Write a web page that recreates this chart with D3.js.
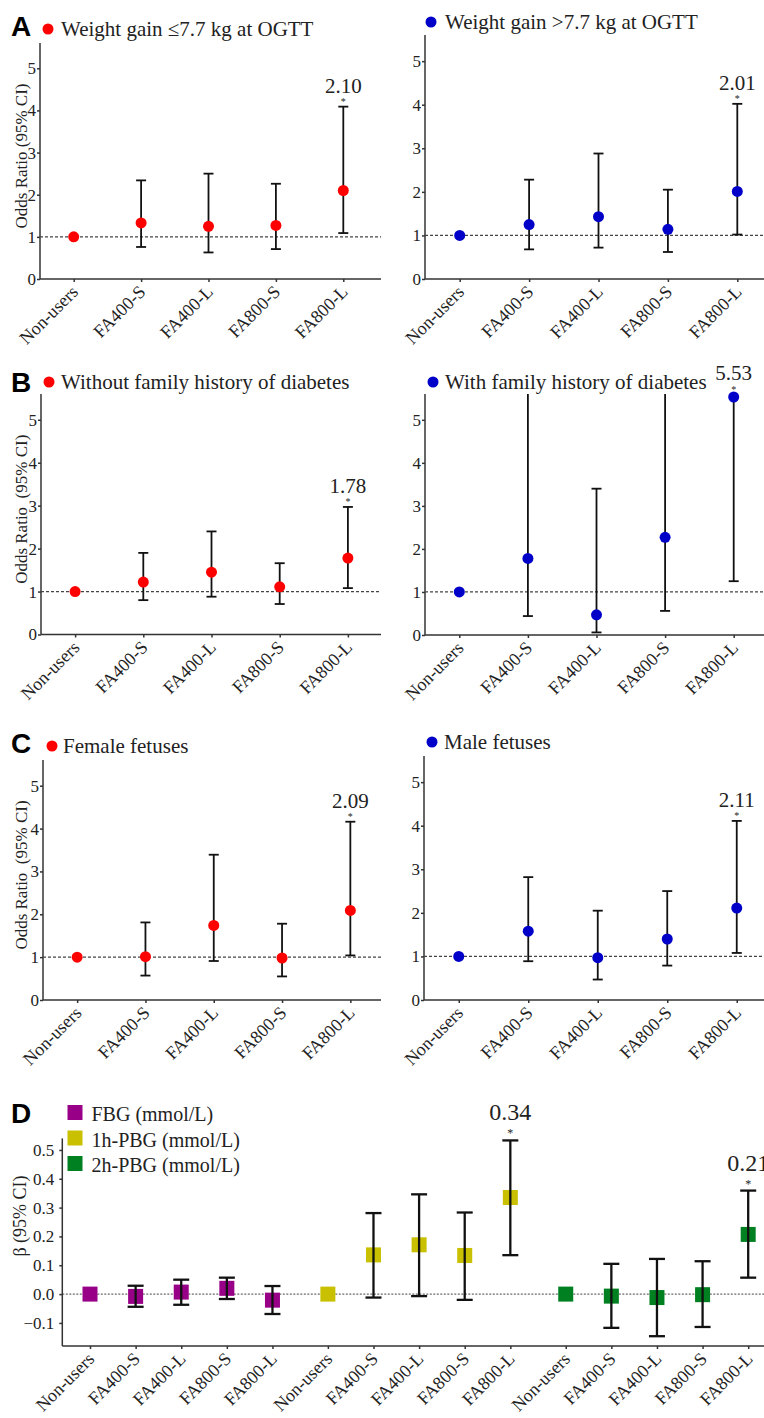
<!DOCTYPE html>
<html>
<head>
<meta charset="utf-8">
<script src="https://cdn.jsdelivr.net/npm/d3@7"></script>
<style>
  body { margin: 0; background: #fff; }
  svg text { font-family: "Liberation Serif", "DejaVu Serif", "Times New Roman", serif; }
  svg text.letter { font-family: "Liberation Sans", Arial, sans-serif; font-weight: bold; }
</style>
</head>
<body>
<div id="chart"></div>
<script>
// ---- data ----
const groups = ["Non-users", "FA400-S", "FA400-L", "FA800-S", "FA800-L"];
const orTicks = [0, 1, 2, 3, 4, 5];
const betaTicks = [-0.1, 0, 0.1, 0.2, 0.3, 0.4, 0.5];

// A: weight gain
const wgLowOR = [1, 1.33, 1.25, 1.27, 2.10];
const wgLowLo = [null, 0.76, 0.63, 0.71, 1.09];
const wgLowHi = [null, 2.34, 2.50, 2.26, 4.09];
const wgHighOR = [1, 1.25, 1.43, 1.14, 2.01];
const wgHighLo = [null, 0.68, 0.72, 0.62, 1.02];
const wgHighHi = [null, 2.28, 2.88, 2.05, 4.02];

// B: family history of diabetes
const noFamOR = [1, 1.22, 1.45, 1.11, 1.78];
const noFamLo = [null, 0.80, 0.88, 0.71, 1.08];
const noFamHi = [null, 1.90, 2.40, 1.66, 2.97];
const famOR = [1, 1.78, 0.47, 2.27, 5.53];
const famLo = [null, 0.44, 0.06, 0.56, 1.25];
const famHi = [null, 7.3, 3.40, 9.2, 24.5];   // tops beyond the axis are estimates

// C: fetal sex
const femaleOR = [1, 1.01, 1.74, 0.98, 2.09];
const femaleLo = [null, 0.57, 0.91, 0.55, 1.04];
const femaleHi = [null, 1.81, 3.39, 1.78, 4.16];
const maleOR = [1, 1.58, 0.97, 1.40, 2.11];
const maleLo = [null, 0.89, 0.47, 0.79, 1.08];
const maleHi = [null, 2.82, 2.05, 2.50, 4.11];

// D: glucose beta
const measures = ["FBG (mmol/L)", "1h-PBG (mmol/L)", "2h-PBG (mmol/L)"];
const measureColors = ["#990088", "#c8c000", "#008020"];
const fbgBeta = [0, -0.008, 0.007, 0.020, -0.021];
const fbgLo = [null, -0.044, -0.037, -0.017, -0.069];
const fbgHi = [null, 0.029, 0.050, 0.057, 0.028];
const pbg1Beta = [0, 0.136, 0.171, 0.134, 0.335];
const pbg1Lo = [null, -0.012, -0.007, -0.020, 0.135];
const pbg1Hi = [null, 0.281, 0.346, 0.283, 0.533];
const pbg2Beta = [0, -0.007, -0.012, -0.002, 0.207];
const pbg2Lo = [null, -0.117, -0.146, -0.114, 0.057];
const pbg2Hi = [null, 0.105, 0.122, 0.114, 0.359];
const betaSig = [null, 4, 4];   // index of the starred estimate per measure

// ---- setup ----
const width = 764;
const height = 1418;
const axisColor = "#333";

const svg = d3.select("#chart").append("svg")
  .attr("width", width)
  .attr("height", height);

const rows = [
  { letter: "A", letterY: 36, panels: [
    { title: "Weight gain \u22647.7 kg at OGTT", color: "red", or: wgLowOR, lo: wgLowLo, hi: wgLowHi,
      ax: 40, xEnd: 377, axEnd: 381, bottom: 279, top: 43, titleY: 36, dotX: 48, textX: 61, ylabel: "Odds Ratio (95% CI)" },
    { title: "Weight gain >7.7 kg at OGTT", color: "#0000c8", or: wgHighOR, lo: wgHighLo, hi: wgHighHi,
      ax: 425, xEnd: 772, axEnd: 764, bottom: 279, top: 35, titleY: 29, dotX: 431, textX: 445 }
  ]},
  { letter: "B", letterY: 392, panels: [
    { title: "Without family history of diabetes", color: "red", or: noFamOR, lo: noFamLo, hi: noFamHi,
      ax: 41, xEnd: 382, axEnd: 381, bottom: 634.5, top: 394, titleY: 389, dotX: 49, textX: 61, ylabel: "Odds Ratio\u00a0 (95% CI)" },
    { title: "With family history of diabetes", color: "#0000c8", or: famOR, lo: famLo, hi: famHi,
      ax: 425, xEnd: 768, axEnd: 764, bottom: 635, top: 394, titleY: 389, dotX: 433, textX: 445 }
  ]},
  { letter: "C", letterY: 753, panels: [
    { title: "Female fetuses", color: "red", or: femaleOR, lo: femaleLo, hi: femaleHi,
      ax: 43, xEnd: 384.5, axEnd: 381, bottom: 1000, top: 760, titleY: 753, dotX: 52, textX: 63, ylabel: "Odds Ratio\u00a0 (95% CI)" },
    { title: "Male fetuses", color: "#0000c8", or: maleOR, lo: maleLo, hi: maleHi,
      ax: 424, xEnd: 771.5, axEnd: 764, bottom: 1000, top: 756, titleY: 749, dotX: 432, textX: 444 }
  ]}
];

function styleAxis(g) {
  g.selectAll(".domain, .tick line").attr("stroke", axisColor).attr("stroke-width", 1.5);
  g.selectAll(".tick text").attr("fill", "#222");
}

function errorBars(g, xs, yFn, lo, hi, yMax, halfCap, strokeW) {
  groups.forEach((c, i) => {
    if (lo[i] === null) return;
    const top = Math.min(hi[i], yMax);
    const x = xs(c);
    g.append("line").attr("x1", x).attr("x2", x)
      .attr("y1", yFn(lo[i])).attr("y2", yFn(top))
      .attr("stroke", "#111").attr("stroke-width", strokeW);
    g.append("line").attr("x1", x - halfCap).attr("x2", x + halfCap)
      .attr("y1", yFn(lo[i])).attr("y2", yFn(lo[i]))
      .attr("stroke", "#111").attr("stroke-width", strokeW);
    if (hi[i] <= yMax) {
      g.append("line").attr("x1", x - halfCap).attr("x2", x + halfCap)
        .attr("y1", yFn(top)).attr("y2", yFn(top))
        .attr("stroke", "#111").attr("stroke-width", strokeW);
    }
  });
}

// ---- panels A-C ----
rows.forEach(row => {
  svg.append("text")
    .attr("class", "letter")
    .attr("x", 11).attr("y", row.letterY)
    .attr("font-size", 28).attr("fill", "#000")
    .text(row.letter);

  row.panels.forEach(p => {
    const x = d3.scalePoint().domain(groups).range([p.ax, p.xEnd]).padding(0.5);
    const y = d3.scaleLinear().domain([0, 5.6]).range([p.bottom, p.top]);
    const g = svg.append("g");

    // title with dot
    g.append("circle").attr("cx", p.dotX).attr("cy", p.titleY - 7).attr("r", 5.5).attr("fill", p.color);
    g.append("text").attr("x", p.textX).attr("y", p.titleY)
      .attr("font-size", 21).attr("fill", "#222").text(p.title);

    // y axis
    const yAxis = g.append("g")
      .attr("transform", `translate(${p.ax},0)`)
      .call(d3.axisLeft(y).tickValues(orTicks).tickFormat(d3.format("d")).tickSize(3).tickPadding(1).tickSizeOuter(0));
    yAxis.select(".domain").attr("d", `M0,${p.bottom}V${p.top}`);
    yAxis.selectAll(".tick text").attr("font-size", 17);
    styleAxis(yAxis);

    // x axis
    const xAxis = g.append("g")
      .attr("transform", `translate(0,${p.bottom})`)
      .call(d3.axisBottom(x).tickSize(3).tickSizeOuter(0));
    xAxis.select(".domain").attr("d", `M${p.ax},0H${p.axEnd}`);
    xAxis.selectAll(".tick text")
      .attr("x", 0).attr("y", 0).attr("dy", 0)
      .attr("transform", "translate(5,14) rotate(-45)")
      .attr("font-size", 18)
      .style("text-anchor", "end");
    styleAxis(xAxis);

    if (p.ylabel) {
      g.append("text")
        .attr("transform", `translate(27,${(p.top + p.bottom) / 2 - 5}) rotate(-90)`)
        .attr("text-anchor", "middle").attr("font-size", 17).attr("fill", "#222")
        .text(p.ylabel);
    }

    // reference line at OR = 1
    g.append("line")
      .attr("x1", p.ax).attr("x2", p.axEnd)
      .attr("y1", y(1)).attr("y2", y(1))
      .attr("stroke", "#444").attr("stroke-width", 1.3).attr("stroke-dasharray", "3,2");

    errorBars(g, x, y, p.lo, p.hi, 5.6, 5, 1.8);

    g.selectAll(".pt").data(groups).enter().append("circle")
      .attr("cx", d => x(d))
      .attr("cy", (d, i) => y(p.or[i]))
      .attr("r", 5.5)
      .attr("fill", p.color);

    // starred estimate (last category)
    const last = groups.length - 1;
    const topY = y(Math.min(p.hi[last], 5.6));
    g.append("text").attr("x", x(groups[last])).attr("y", topY - 14)
      .attr("text-anchor", "middle").attr("font-size", 21).attr("fill", "#222")
      .text(p.or[last].toFixed(2));
    g.append("text").attr("x", x(groups[last])).attr("y", topY - 1.5)
      .attr("text-anchor", "middle").attr("font-size", 10).attr("fill", "#222")
      .text("*");
  });
});

// ---- panel D ----
const dBottom = 1346, dTop = 1138.4, dAx = 62.3;
const betaSets = [
  { beta: fbgBeta, lo: fbgLo, hi: fbgHi },
  { beta: pbg1Beta, lo: pbg1Lo, hi: pbg1Hi },
  { beta: pbg2Beta, lo: pbg2Lo, hi: pbg2Hi }
];

const outer = d3.scaleBand().domain(measures).range([67.2, 771]).paddingInner(0.0412).paddingOuter(0);
const inner = d3.scalePoint().domain(groups).range([0, outer.bandwidth()]).padding(0.5);
const yD = d3.scaleLinear().domain([-0.18, 0.54]).range([dBottom, dTop]);

const gD = svg.append("g");

gD.append("text")
  .attr("class", "letter")
  .attr("x", 11).attr("y", 1123)
  .attr("font-size", 28).attr("fill", "#000")
  .text("D");

const yAxisD = gD.append("g")
  .attr("transform", `translate(${dAx},0)`)
  .call(d3.axisLeft(yD).tickValues(betaTicks).tickFormat(d3.format(".1f")).tickSize(3).tickPadding(5).tickSizeOuter(0));
yAxisD.select(".domain").attr("d", `M0,${dBottom}V${dTop}`);
yAxisD.selectAll(".tick text").attr("font-size", 17);
styleAxis(yAxisD);

gD.append("text")
  .attr("transform", `translate(26,1216) rotate(-90)`)
  .attr("text-anchor", "middle").attr("font-size", 18).attr("fill", "#222")
  .text("\u03b2 (95% CI)");

gD.append("line").attr("x1", dAx).attr("x2", width)
  .attr("y1", dBottom).attr("y2", dBottom)
  .attr("stroke", axisColor).attr("stroke-width", 1.5);

gD.append("line")
  .attr("x1", dAx).attr("x2", width)
  .attr("y1", yD(0)).attr("y2", yD(0))
  .attr("stroke", "#444").attr("stroke-width", 1).attr("stroke-dasharray", "2,1.5");

measures.forEach((m, k) => {
  const set = betaSets[k];
  const gx = gD.append("g").attr("transform", `translate(${outer(m)},0)`);

  const xa = gx.append("g")
    .attr("transform", `translate(0,${dBottom})`)
    .call(d3.axisBottom(inner).tickSize(3).tickSizeOuter(0));
  xa.select(".domain").remove();
  xa.selectAll(".tick text")
    .attr("x", 0).attr("y", 0).attr("dy", 0)
    .attr("transform", "translate(5,14) rotate(-45)")
    .attr("font-size", 18)
    .style("text-anchor", "end");
  styleAxis(xa);

  gx.selectAll(".sq").data(groups).enter().append("rect")
    .attr("x", d => inner(d) - 7.5)
    .attr("y", (d, i) => yD(set.beta[i]) - 7.5)
    .attr("width", 15).attr("height", 15)
    .attr("fill", measureColors[k]);

  errorBars(gx, inner, yD, set.lo, set.hi, 0.54, 8, 2.3);

  if (betaSig[k] !== null) {
    const c = groups[betaSig[k]];
    const topY = yD(set.hi[betaSig[k]]);
    gx.append("text").attr("x", inner(c)).attr("y", topY - 20)
      .attr("text-anchor", "middle").attr("font-size", 24).attr("fill", "#222")
      .text(set.beta[betaSig[k]].toFixed(2));
    gx.append("text").attr("x", inner(c)).attr("y", topY - 3)
      .attr("text-anchor", "middle").attr("font-size", 12).attr("fill", "#222")
      .text("*");
  }
});

// legend D
const legend = gD.append("g");
measures.forEach((m, k) => {
  const ly = 1105 + k * 25.5;
  legend.append("rect").attr("x", 67.5).attr("y", ly).attr("width", 15).attr("height", 15)
    .attr("fill", measureColors[k]);
  legend.append("text").attr("x", 91.5).attr("y", ly + 16)
    .attr("font-size", 20).attr("fill", "#222").text(m);
});
</script>
</body>
</html>
